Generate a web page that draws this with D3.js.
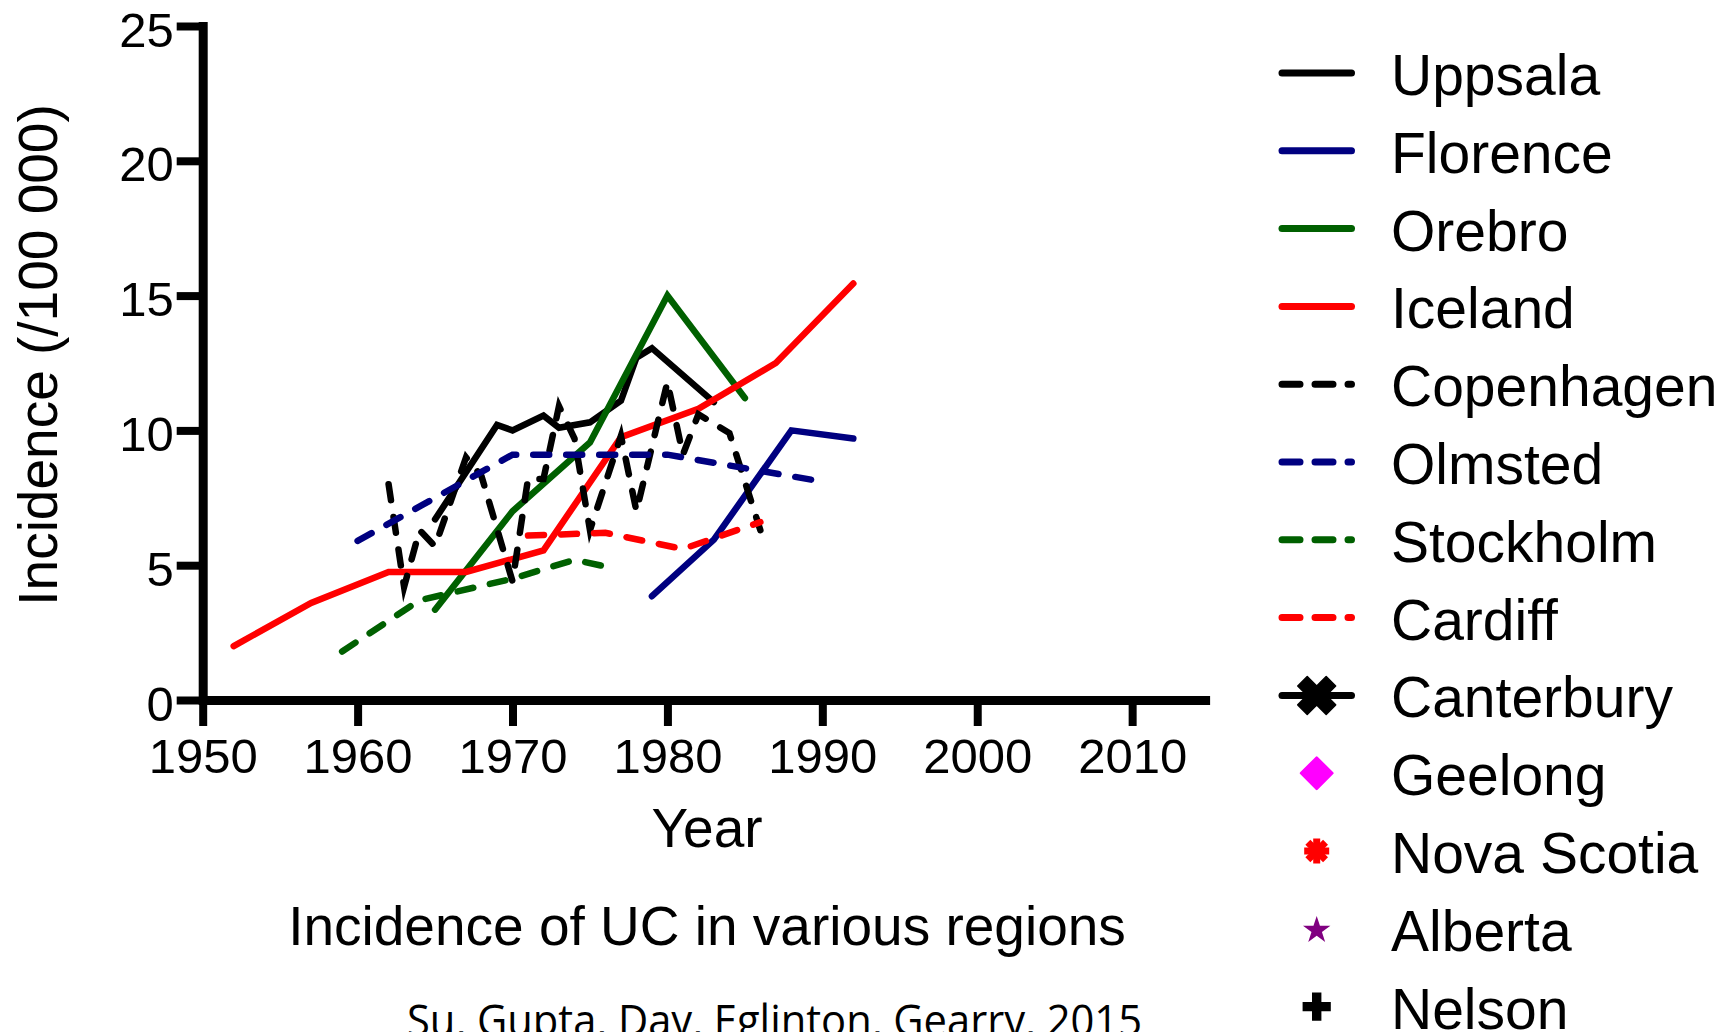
<!DOCTYPE html>
<html>
<head>
<meta charset="utf-8">
<script src="https://cdn.jsdelivr.net/npm/d3@7"></script>
<style>
  html, body { margin: 0; padding: 0; background: #fff; }
  svg { display: block; }
  text { font-family: "Liberation Sans", Arial, Helvetica, sans-serif; fill: #000; }
</style>
</head>
<body>
<svg id="chart" width="1731" height="1032"></svg>
<script>
// UC incidence per region: [year, incidence per 100 000]
const uppsala = [[1965, 6.7], [1969, 10.2], [1970, 10.0], [1972, 10.55], [1973, 10.1], [1975, 10.3], [1977, 11.1], [1978, 12.7], [1979, 13.05], [1983, 11.05]];
const florence = [[1979, 3.85], [1983, 5.95], [1988, 10.0], [1992, 9.7]];
const orebro = [[1965, 3.35], [1970, 7.0], [1975, 9.55], [1980, 15.0], [1985, 11.2]];
const iceland = [[1952, 2.0], [1957, 3.6], [1962, 4.75], [1967, 4.75], [1972, 5.55], [1977, 9.75], [1982, 10.8], [1987, 12.5], [1992, 15.45]];
const copenhagen = [[1962, 8.0], [1963, 4.2], [1964, 6.3], [1965, 5.7], [1967, 9.0], [1968, 8.3], [1970, 4.4], [1971, 8.2], [1972, 8.2], [1973, 10.9], [1974, 9.7], [1975, 6.3], [1977, 9.8], [1978, 7.0], [1980, 11.8], [1981, 9.1], [1982, 10.6], [1984, 9.9], [1985, 8.1], [1986, 6.3]];
const olmsted = [[1960, 5.9], [1970, 9.1], [1980, 9.1], [1990, 8.1]];
const stockholm = [[1959, 1.8], [1964, 3.7], [1970, 4.5], [1974, 5.2], [1976, 4.95]];
const cardiff = [[1971, 6.1], [1976, 6.2], [1981, 5.6], [1986, 6.6]];

// Legend entries (the last five are listed without plotted points)
const legendNames = ["Uppsala", "Florence", "Orebro", "Iceland", "Copenhagen", "Olmsted", "Stockholm", "Cardiff", "Canterbury", "Geelong", "Nova Scotia", "Alberta", "Nelson"];

// Axis ticks
const xTicks = [1950, 1960, 1970, 1980, 1990, 2000, 2010];
const yTicks = [0, 5, 10, 15, 20, 25];

const svg = d3.select("#chart");

const x = d3.scaleLinear().domain([1950, 2015]).range([202.7, 1209.6]);
const y = d3.scaleLinear().domain([0, 25]).range([700, 26]);

const navy = "#000080", dkgreen = "#006000", red = "#ff0000";

const series = [
  { data: uppsala, color: "#000", dash: false },
  { data: florence, color: navy, dash: false },
  { data: orebro, color: dkgreen, dash: false },
  { data: iceland, color: red, dash: false },
  { data: copenhagen, color: "#000", dash: true },
  { data: olmsted, color: navy, dash: true },
  { data: stockholm, color: dkgreen, dash: true },
  { data: cardiff, color: red, dash: true }
];

// Axes
const xAxis = d3.axisBottom(x).tickValues(xTicks).tickFormat(d3.format("d")).tickSize(26).tickSizeOuter(0);
const gx = svg.append("g").attr("transform", "translate(0,700)").call(xAxis);
gx.select(".domain").attr("stroke", "#000").attr("stroke-width", 9);
gx.selectAll(".tick line").attr("stroke", "#000").attr("stroke-width", 8);
gx.selectAll(".tick text").attr("y", 73).attr("dy", null)
  .style("font-size", "49px").attr("fill", "#000");

const yAxis = d3.axisLeft(y).tickValues(yTicks).tickSize(26).tickSizeOuter(0);
const gy = svg.append("g").attr("transform", "translate(202.7,0)").call(yAxis);
gy.select(".domain").attr("stroke", "#000").attr("stroke-width", 9).attr("stroke-linecap", "square");
gy.selectAll(".tick line").attr("stroke", "#000").attr("stroke-width", 8);
gy.selectAll(".tick text").attr("x", -29).attr("dy", 20)
  .style("font-size", "49px").attr("fill", "#000");

// Axis titles
svg.append("text").attr("x", 707).attr("y", 847).attr("text-anchor", "middle")
  .style("font-size", "55px").text("Year");
svg.append("text").attr("transform", "translate(56.5,355) rotate(-90)").attr("text-anchor", "middle")
  .style("font-size", "55px").text("Incidence (/100 000)");

// Caption and source
svg.append("text").attr("x", 707).attr("y", 945).attr("text-anchor", "middle")
  .style("font-size", "55px").text("Incidence of UC in various regions");
svg.append("text").attr("x", 774.5).attr("y", 1036).attr("text-anchor", "middle")
  .attr("textLength", 735).attr("lengthAdjust", "spacingAndGlyphs")
  .style("font-family", "'Open Sans', 'Noto Sans', sans-serif").style("font-size", "44px")
  .text("Su, Gupta, Day, Eglinton, Gearry, 2015");

// Series lines
const line = d3.line().x(d => x(d[0])).y(d => y(d[1]));
const plot = svg.append("g");
series.forEach(s => {
  plot.append("path")
    .datum(s.data)
    .attr("d", line)
    .attr("fill", "none")
    .attr("stroke", s.color)
    .attr("stroke-width", 6.5)
    .attr("stroke-linecap", "round")
    .attr("stroke-linejoin", "miter")
    .attr("stroke-miterlimit", 10)
    .attr("stroke-dasharray", s.dash ? "16,17" : null);
});

// Legend
const legendStyles = [
  { color: "#000", kind: "solid" },
  { color: navy, kind: "solid" },
  { color: dkgreen, kind: "solid" },
  { color: red, kind: "solid" },
  { color: "#000", kind: "dash" },
  { color: navy, kind: "dash" },
  { color: dkgreen, kind: "dash" },
  { color: red, kind: "dash" },
  { color: "#000", kind: "xcross" },
  { color: "#ff00ff", kind: "diamond" },
  { color: red, kind: "burst" },
  { color: "#800080", kind: "star" },
  { color: "#000", kind: "plus" }
];

const legend = svg.append("g");
const lx0 = 1282, lx1 = 1351.5, mx = 1316.7;
legendNames.forEach((name, i) => {
  const st = legendStyles[i];
  const ry = 73 + i * 77.8;
  const g = legend.append("g").attr("transform", `translate(0,${ry})`);
  if (st.kind === "solid" || st.kind === "dash" || st.kind === "xcross") {
    g.append("line").attr("x1", lx0).attr("x2", lx1).attr("y1", 0).attr("y2", 0)
      .attr("stroke", st.color).attr("stroke-width", 7).attr("stroke-linecap", "round")
      .attr("stroke-dasharray", st.kind === "dash" ? "18,15" : null);
  }
  if (st.kind === "xcross") {
    g.append("path").attr("d", d3.symbol(d3.symbolCross, 898)())
      .attr("transform", `translate(${mx},0) rotate(45)`).attr("fill", st.color)
      .attr("stroke", st.color).attr("stroke-width", 1.5).attr("stroke-linejoin", "round");
  } else if (st.kind === "diamond") {
    g.append("path").attr("d", d3.symbol(d3.symbolSquare, 490)())
      .attr("transform", `translate(${mx},0) rotate(45)`).attr("fill", st.color)
      .attr("stroke", st.color).attr("stroke-width", 2.5).attr("stroke-linejoin", "round");
  } else if (st.kind === "burst") {
    [0, 45, 90, 135].forEach(a => {
      g.append("line").attr("x1", -12.5).attr("x2", 12.5).attr("y1", 0).attr("y2", 0)
        .attr("transform", `translate(${mx},0) rotate(${a})`)
        .attr("stroke", st.color).attr("stroke-width", 7);
    });
    g.append("circle").attr("cx", mx).attr("cy", 0).attr("r", 7).attr("fill", st.color);
  } else if (st.kind === "star") {
    g.append("path").attr("d", d3.symbol(d3.symbolStar, 233)())
      .attr("transform", `translate(${mx},1.5)`).attr("fill", st.color);
  } else if (st.kind === "plus") {
    g.append("path").attr("d", d3.symbol(d3.symbolCross, 442)())
      .attr("transform", `translate(${mx},0)`).attr("fill", st.color);
  }
  g.append("text").attr("x", 1391).attr("y", 22).style("font-size", "57px").text(name);
});
</script>
</body>
</html>
